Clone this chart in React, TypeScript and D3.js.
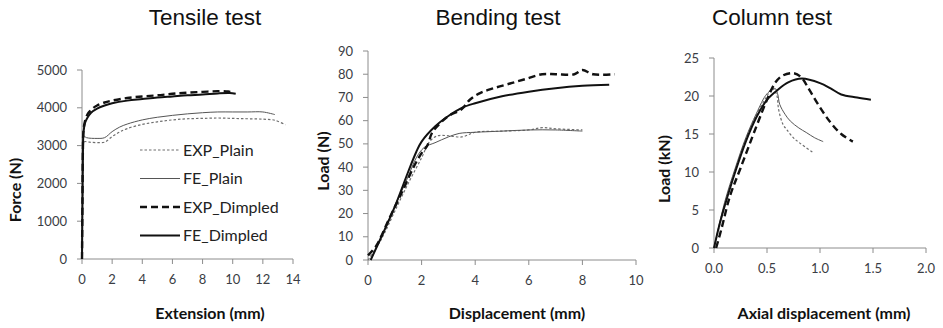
import React from 'react'
import * as d3 from 'd3'

type Pt = [number, number]

// ---- data ----
const seriesNames = ['EXP_Plain', 'FE_Plain', 'EXP_Dimpled', 'FE_Dimpled']

// Tensile test: extension (mm) vs force (N)
const tensileXTicks = [0, 2, 4, 6, 8, 10, 12, 14]
const tensileYTicks = [0, 1000, 2000, 3000, 4000, 5000]
const tensileExpPlain: Pt[] = [[0, 0], [0.04, 1500], [0.08, 2900], [0.15, 3100], [0.5, 3090], [1, 3080], [1.5, 3090], [2, 3240], [2.5, 3360], [3, 3450], [4, 3560], [5, 3630], [6, 3680], [7, 3710], [8, 3720], [9, 3730], [10, 3720], [11, 3710], [12, 3700], [12.8, 3670], [13.5, 3550]]
const tensileFePlain: Pt[] = [[0, 0], [0.04, 1500], [0.08, 3000], [0.12, 3250], [0.3, 3210], [1, 3190], [1.5, 3210], [2, 3370], [2.5, 3490], [3, 3570], [4, 3680], [5, 3750], [6, 3800], [7, 3840], [8, 3870], [9, 3890], [10, 3890], [11, 3890], [12, 3890], [12.8, 3820]]
const tensileExpDimpled: Pt[] = [[0, 0], [0.03, 1500], [0.06, 2900], [0.1, 3400], [0.2, 3650], [0.4, 3850], [0.7, 3980], [1, 4060], [1.5, 4140], [2, 4190], [3, 4260], [4, 4300], [5, 4330], [6, 4370], [7, 4400], [8, 4420], [9, 4440], [9.7, 4430], [10.1, 4400]]
const tensileFeDimpled: Pt[] = [[0, 0], [0.03, 1500], [0.06, 2800], [0.1, 3350], [0.2, 3600], [0.35, 3730], [0.6, 3870], [1, 3980], [1.5, 4060], [2, 4120], [3, 4190], [4, 4230], [5, 4270], [6, 4300], [7, 4330], [8, 4350], [9, 4380], [9.8, 4390], [10.2, 4370]]

// Bending test: displacement (mm) vs load (N)
const bendingXTicks = [0, 2, 4, 6, 8, 10]
const bendingYTicks = [0, 10, 20, 30, 40, 50, 60, 70, 80, 90]
const bendingExpPlain: Pt[] = [[0, 0], [0.5, 9], [1, 21], [1.5, 33], [2, 44], [2.3, 51], [2.6, 53.5], [3, 53.5], [3.5, 53], [4, 55], [5, 55.5], [6, 56], [6.5, 57], [7, 56.5], [8, 56]]
const bendingFePlain: Pt[] = [[0.1, 0], [0.5, 10], [1, 23], [1.5, 36], [1.8, 44], [2.1, 48.5], [2.5, 50.5], [3, 53], [3.4, 54.5], [4, 55], [5, 55.5], [6, 56], [7, 56], [8, 55.5]]
const bendingExpDimpled: Pt[] = [[0, 2], [0.3, 6], [0.8, 18], [1.3, 30], [1.7, 40], [2, 46], [2.2, 49], [2.4, 55], [2.7, 59], [3, 62], [3.5, 65], [3.8, 69], [4.2, 72], [4.7, 74], [5.3, 76], [5.9, 78], [6.5, 80], [7, 80], [7.7, 80], [8, 81.8], [8.4, 80], [9.2, 80]]
const bendingFeDimpled: Pt[] = [[0.1, 0], [0.5, 10], [1, 23], [1.5, 38], [1.8, 46.5], [2, 51], [2.5, 57.5], [3, 62], [3.5, 65.5], [4, 67.5], [5, 70.5], [6, 72.5], [7, 74], [8, 75], [9, 75.5]]

// Column test: axial displacement (mm) vs load (kN)
const columnXTicks = [0, 0.5, 1, 1.5, 2]
const columnYTicks = [0, 5, 10, 15, 20, 25]
const columnExpPlain: Pt[] = [[0, 0], [0.1, 5.5], [0.2, 10.2], [0.3, 14.3], [0.4, 17.5], [0.5, 20], [0.55, 21], [0.59, 20.2], [0.61, 18.2], [0.65, 16.3], [0.69, 15.5], [0.75, 14.5], [0.81, 13.8], [0.94, 12.5]]
const columnFePlain: Pt[] = [[0, 0], [0.1, 6], [0.2, 10.5], [0.3, 14.5], [0.4, 17.7], [0.5, 20.3], [0.575, 21], [0.6, 20.3], [0.62, 18.9], [0.67, 17.6], [0.72, 16.7], [0.8, 15.8], [0.87, 15.2], [0.95, 14.5], [1.03, 14]]
const columnExpDimpled: Pt[] = [[0.02, 0], [0.07, 2.5], [0.15, 6.8], [0.25, 10.5], [0.4, 16], [0.5, 19.5], [0.58, 21.8], [0.65, 22.7], [0.75, 23], [0.82, 22.5], [0.9, 20.8], [1, 18.5], [1.1, 16.5], [1.2, 15], [1.31, 14]]
const columnFeDimpled: Pt[] = [[0, 0], [0.05, 3], [0.1, 5.5], [0.2, 10], [0.3, 14], [0.4, 17.2], [0.5, 19.5], [0.6, 20.8], [0.7, 21.8], [0.83, 22.3], [1, 21.7], [1.1, 21], [1.2, 20.2], [1.35, 19.8], [1.48, 19.5]]

// ---- styles ----
const lineStyles = [
  { stroke: '#6e6e6e', width: 1.2, dash: '2.5,2' },
  { stroke: '#555', width: 1, dash: '' },
  { stroke: '#111', width: 2.4, dash: '7,4' },
  { stroke: '#111', width: 2, dash: '' },
]
const axisColor = '#8c8c8c'
const tickColor = '#3a3d44'
const labelFont = 'Lato, "Open Sans", sans-serif'

type PanelProps = {
  title: string
  xLabel: string
  yLabel: string
  left: number
  right: number
  top: number
  bottom: number
  xTicks: number[]
  yTicks: number[]
  xFormat: (v: number) => string
  series: Pt[][]
  titleX: number
  xLabelX: number
  yLabelX: number
  yLabelY: number
}

function Panel(p: PanelProps) {
  const x = d3.scaleLinear().domain([p.xTicks[0], p.xTicks[p.xTicks.length - 1]]).range([p.left, p.right])
  const y = d3.scaleLinear().domain([p.yTicks[0], p.yTicks[p.yTicks.length - 1]]).range([p.bottom, p.top])
  const line = d3.line<Pt>()
    .x(d => x(d[0]))
    .y(d => y(d[1]))
    .curve(d3.curveCatmullRom.alpha(0.5))

  return (
    <g>
      <text x={p.titleX} y={25} textAnchor="middle" fontFamily='"Liberation Sans", Arial, sans-serif' fontSize={22.5} fill="#111">{p.title}</text>

      {/* axes */}
      <line x1={p.left} x2={p.right} y1={p.bottom} y2={p.bottom} stroke={axisColor} />
      <line x1={p.left} x2={p.left} y1={p.bottom} y2={p.top} stroke={axisColor} />
      {p.xTicks.map(t => (
        <g key={'x' + t}>
          <line x1={x(t)} x2={x(t)} y1={p.bottom} y2={p.bottom + 5} stroke={axisColor} />
          <text x={x(t)} y={p.bottom + 25} textAnchor="middle" fontFamily={labelFont} fontSize={13} fill={tickColor}>{p.xFormat(t)}</text>
        </g>
      ))}
      {p.yTicks.map(t => (
        <g key={'y' + t}>
          <line x1={p.left - 5} x2={p.left} y1={y(t)} y2={y(t)} stroke={axisColor} />
          <text x={p.left - 15} y={y(t)} dy="0.35em" textAnchor="end" fontFamily={labelFont} fontSize={13} fill={tickColor}>{t}</text>
        </g>
      ))}

      {/* curves */}
      {p.series.map((s, i) => (
        <path key={i} d={line(s) || ''} fill="none" stroke={lineStyles[i].stroke}
          strokeWidth={lineStyles[i].width} strokeDasharray={lineStyles[i].dash || undefined} />
      ))}

      {/* axis titles */}
      <text x={p.xLabelX} y={319} textAnchor="middle" fontFamily={labelFont} fontWeight="bold" fontSize={16} fill="#111">{p.xLabel}</text>
      <text transform={`translate(${p.yLabelX},${p.yLabelY}) rotate(-90)`} textAnchor="middle" dy="0.35em"
        fontFamily={labelFont} fontWeight="bold" fontSize={16} fill="#111">{p.yLabel}</text>
    </g>
  )
}

function Legend({ x, y }: { x: number, y: number }) {
  return (
    <g>
      {seriesNames.map((name, i) => (
        <g key={name} transform={`translate(${x},${y + i * 28.5})`}>
          <line x1={0} x2={40} y1={0} y2={0} stroke={lineStyles[i].stroke}
            strokeWidth={lineStyles[i].width} strokeDasharray={lineStyles[i].dash || undefined} />
          <text x={43} y={0} dy="0.36em" fontFamily={labelFont} fontSize={16} fill="#222">{name}</text>
        </g>
      ))}
    </g>
  )
}

export default function App() {
  const intFmt = d3.format('d')
  const decFmt = d3.format('.1f')
  return (
    <svg width={943} height={328} style={{ position: 'absolute', left: 0, top: 0, background: '#fff' }}>
      <Panel title="Tensile test" xLabel="Extension (mm)" yLabel="Force (N)"
        left={82} right={293} top={70} bottom={259}
        xTicks={tensileXTicks} yTicks={tensileYTicks} xFormat={intFmt}
        series={[tensileExpPlain, tensileFePlain, tensileExpDimpled, tensileFeDimpled]}
        titleX={205} xLabelX={210} yLabelX={15} yLabelY={190} />
      <Legend x={140} y={150} />
      <Panel title="Bending test" xLabel="Displacement (mm)" yLabel="Load (N)"
        left={368} right={636} top={51} bottom={260}
        xTicks={bendingXTicks} yTicks={bendingYTicks} xFormat={intFmt}
        series={[bendingExpPlain, bendingFePlain, bendingExpDimpled, bendingFeDimpled]}
        titleX={498} xLabelX={517} yLabelX={323} yLabelY={161} />
      <Panel title="Column test" xLabel="Axial displacement (mm)" yLabel="Load (kN)"
        left={714} right={926} top={58} bottom={248}
        xTicks={columnXTicks} yTicks={columnYTicks} xFormat={decFmt}
        series={[columnExpPlain, columnFePlain, columnExpDimpled, columnFeDimpled]}
        titleX={772} xLabelX={824} yLabelX={664} yLabelY={169} />
    </svg>
  )
}
